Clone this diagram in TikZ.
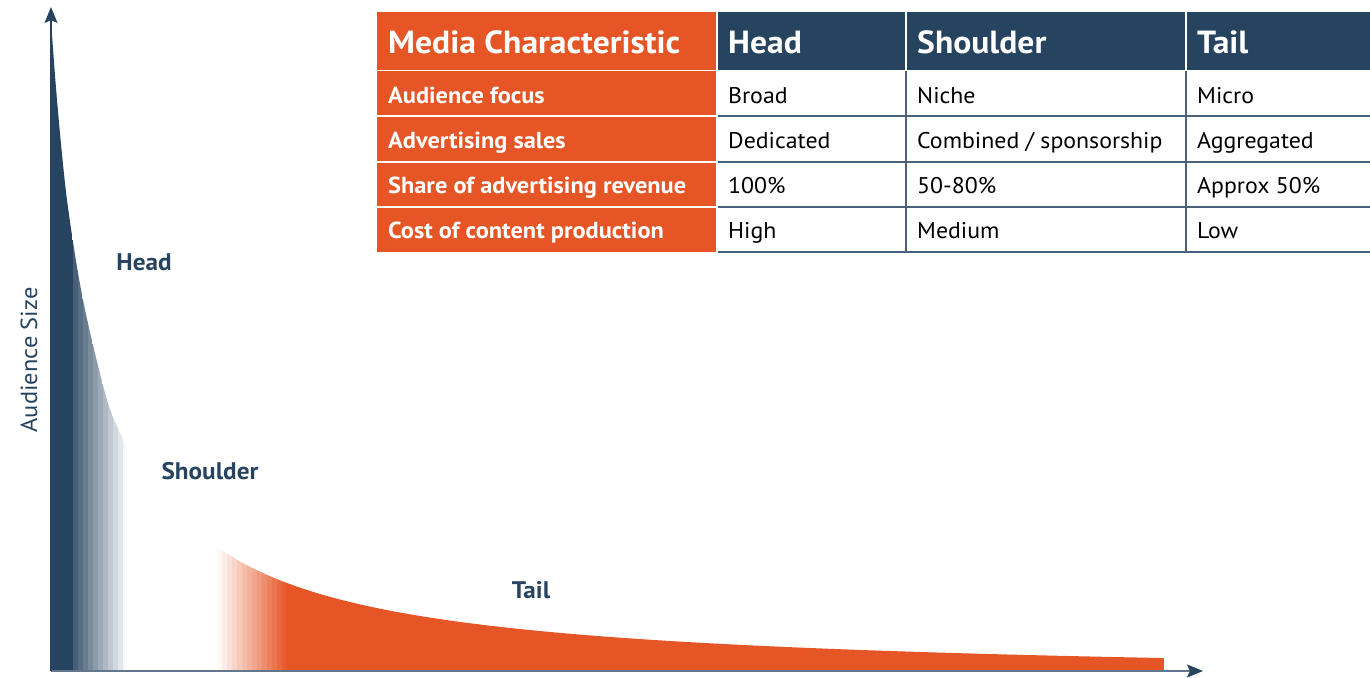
\documentclass[tikz,border=0pt]{standalone}
\usepackage{fontspec}
\setmainfont{PT Sans}[FakeStretch=1.05]
\usetikzlibrary{arrows.meta}
\definecolor{navy}{HTML}{26435F}
\definecolor{rust}{HTML}{E55525}
\definecolor{axisgray}{HTML}{62778C}
\definecolor{gridblue}{HTML}{4A6078}
\tikzset{
  hdrtext/.style={anchor=base west, text=white, inner sep=0pt, font=\fontsize{32}{38}\selectfont\bfseries},
  rowtext/.style={anchor=base west, text=white, inner sep=0pt, font=\fontsize{23.2}{28}\selectfont\bfseries},
  celltext/.style={anchor=base west, text=black, inner sep=0pt, font=\fontsize{22.7}{27}\selectfont},
  zonelabel/.style={text=navy, font=\fontsize{24}{28}\selectfont\bfseries},
  axisline/.style={axisgray, line width=1.5pt, -{Stealth[length=16pt, width=13pt, inset=3pt, color=navy]}},
}
\begin{document}
\begin{tikzpicture}[x=1pt,y=-1pt]
\useasboundingbox (0,0) rectangle (1370,677);
\coordinate (origin) at (51,671);
\coordinate (ytip) at (51,7);
\coordinate (xtip) at (1203,671);
% head of the curve
\begin{scope}
\clip (51,671) -- plot[smooth] coordinates {(51,20) (57,100) (67,200) (83,300) (107,400) (125,443)} -- (125,671) -- cycle;
\fill[navy] (51,0) rectangle (73,677);
\foreach \i [evaluate=\i as \pct using int(85-8*\i)] in {0,...,10}
  \fill[navy!\pct] ({73+5*\i},0) rectangle ({78+5*\i},677);
\end{scope}
% long tail
\begin{scope}
\clip (217,671) -- plot[domain=217:1164, samples=100] (\x, {680.2-251.72/((\x-28)/100)}) -- (1164,671) -- cycle;
\foreach \i [evaluate=\i as \pct using int(4+7*\i)] in {0,...,13}
  \fill[rust!\pct] ({217+5*\i},500) rectangle ({222+5*\i},677);
\fill[rust] (286,500) rectangle (1164,677);
\end{scope}
\draw[axisline] (origin) -- (xtip);
\draw[axisline, navy] (origin) -- (ytip);
\node[zonelabel] (headlbl) at (144,262) {Head};
\node[zonelabel] (shoulderlbl) at (210,471) {Shoulder};
\node[zonelabel] (taillbl) at (531,590) {Tail};
\node[rotate=90, text=navy, font=\fontsize{23.3}{27}\selectfont] (ylbl) at (29,360) {Audience Size};
% table
\fill[rust] (377,12) rectangle (716,252);
\fill[navy] (718,12) rectangle (1370,70);
\foreach \y in {70.5,116,162,207} \draw[white, line width=1.5pt] (377,\y) -- (716,\y);
\foreach \x in {906,1186} \draw[white, line width=1.5pt] (\x,12) -- (\x,70);
\foreach \y in {116,162,207,252} \draw[gridblue, line width=1.6pt] (718,\y) -- (1370,\y);
\foreach \x in {906,1186} \draw[gridblue, line width=1.3pt] (\x,71) -- (\x,252);
\node[hdrtext] (hmedia) at (388,53) {Media Characteristic};
\node[hdrtext] (hhead) at (728,53) {Head};
\node[hdrtext] (hshoulder) at (917,53) {Shoulder};
\node[hdrtext] (htail) at (1197,53) {Tail};
\foreach \b/\lab/\hd/\sh/\tl [count=\r] in {103/Audience focus/Broad/Niche/Micro,
    148/Advertising sales/Dedicated/{Combined / sponsorship}/Aggregated,
    193/Share of advertising revenue/100\%/50-80\%/Approx 50\%,
    238/Cost of content production/High/Medium/Low} {
  \node[rowtext] (lab\r) at (388,\b) {\lab};
  \node[celltext] (head\r) at (728,\b) {\hd};
  \node[celltext] (shoulder\r) at (917,\b) {\sh};
  \node[celltext] (tail\r) at (1197,\b) {\tl};
}
\end{tikzpicture}
\end{document}
